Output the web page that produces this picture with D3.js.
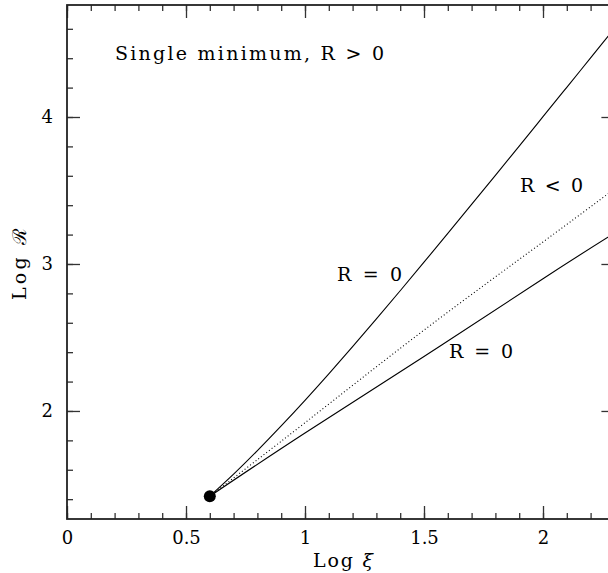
<!DOCTYPE html>
<html>
<head>
<meta charset="utf-8">
<script src="https://cdn.jsdelivr.net/npm/d3@7"></script>
<style>
  body { margin: 0; background: #fff; }
  text { font-family: 'DejaVu Serif', 'Liberation Serif', serif; fill: #000; }
</style>
</head>
<body>
<div class="chart"></div>
<script>
'use strict';

// Data
const xMajor = [0, 0.5, 1, 1.5, 2];
const yMajor = [2, 3, 4];

// R = 0, upper branch
const upperX = [0.6, 0.7, 0.8, 0.9, 1.0, 1.1, 1.2, 1.3, 1.4, 1.5, 1.6, 1.7, 1.8, 1.9, 2.0, 2.1, 2.2, 2.3];
const upperY = [1.42, 1.57, 1.73, 1.898, 2.072, 2.252, 2.437, 2.626, 2.818, 3.012, 3.208, 3.405, 3.603, 3.802, 4.002, 4.202, 4.402, 4.602];

// R < 0, dotted
const dottedX = [0.6, 1.0, 1.5, 2.0, 2.3];
const dottedY = [1.42, 1.92, 2.55, 3.15, 3.51];

// R = 0, lower branch
const lowerX = [0.6, 1.0, 1.5, 2.0, 2.3];
const lowerY = [1.42, 1.85, 2.37, 2.90, 3.21];

const pointX = 0.6;
const pointY = 1.42;

// Layout
const w = 608;
const h = 573;
const mLeft = 67, mRight = 614.4, mTop = 5, mBottom = 519;

const svg = d3.select('.chart')
              .append('svg')
              .attr('width', w)
              .attr('height', h);

const xScale = d3.scaleLinear()
                 .domain([0, 2.3])
                 .range([mLeft, mRight]);

const yScale = d3.scaleLinear()
                 .domain([1.265, 4.762])
                 .range([mBottom, mTop]);

const xMinor = xScale.ticks(23);
const yMinor = yScale.ticks(18);

// Ticks (major with labels, minor without), on all four sides
function tickAxis(axisFn, scale, values, size, transform, pad) {
  const ax = axisFn(scale)
    .tickValues(values)
    .tickSizeInner(-size)
    .tickSizeOuter(0)
    .tickPadding(pad || 0)
    .tickFormat(pad ? d3.format('') : () => '');
  const g = svg.append('g')
    .attr('transform', transform)
    .call(ax);
  g.select('.domain').remove();
  g.attr('font-family', null).attr('font-size', null);
  g.selectAll('line').attr('stroke', '#333').attr('stroke-width', 1.3);
  g.selectAll('text').style('font-size', '18px');
  return g;
}

tickAxis(d3.axisBottom, xScale, xMinor, 6, `translate(0,${mBottom})`);
tickAxis(d3.axisBottom, xScale, xMajor, 13, `translate(0,${mBottom})`, 12);
tickAxis(d3.axisTop, xScale, xMinor, 6, `translate(0,${mTop})`);
tickAxis(d3.axisTop, xScale, xMajor, 13, `translate(0,${mTop})`);
tickAxis(d3.axisLeft, yScale, yMinor, 6, `translate(${mLeft},0)`);
tickAxis(d3.axisLeft, yScale, yMajor, 13, `translate(${mLeft},0)`, 14);
tickAxis(d3.axisRight, yScale, yMinor, 6, `translate(${mRight},0)`);
tickAxis(d3.axisRight, yScale, yMajor, 13, `translate(${mRight},0)`);

// Frame
svg.append('rect')
  .attr('x', mLeft)
  .attr('y', mTop)
  .attr('width', mRight - mLeft)
  .attr('height', mBottom - mTop)
  .attr('fill', 'none')
  .attr('stroke', '#222')
  .attr('stroke-width', 1.8);

// Curves
const line = d3.line()
  .x(d => xScale(d[0]))
  .y(d => yScale(d[1]))
  .curve(d3.curveNatural);

const zip = (xs, ys) => xs.map((x, i) => [x, ys[i]]);

svg.append('path')
  .datum(zip(upperX, upperY))
  .attr('d', line)
  .attr('fill', 'none')
  .attr('stroke', '#000')
  .attr('stroke-width', 1.1);

svg.append('path')
  .datum(zip(lowerX, lowerY))
  .attr('d', line)
  .attr('fill', 'none')
  .attr('stroke', '#000')
  .attr('stroke-width', 1.1);

svg.append('path')
  .datum(zip(dottedX, dottedY))
  .attr('d', line)
  .attr('fill', 'none')
  .attr('stroke', '#000')
  .attr('stroke-width', 1.1)
  .attr('stroke-dasharray', '1,2.4');

svg.append('circle')
  .attr('cx', xScale(pointX))
  .attr('cy', yScale(pointY))
  .attr('r', 6)
  .attr('fill', '#000');

// Annotations
function label(txt, x, y, len, size) {
  return svg.append('text')
    .attr('x', x)
    .attr('y', y)
    .attr('textLength', len)
    .attr('lengthAdjust', 'spacing')
    .style('font-size', size + 'px')
    .text(txt);
}

label('Single minimum, R > 0', 115, 60, 269, 19);
label('R < 0', 520, 192, 63, 19);
label('R = 0', 337, 281, 65, 19);
label('R = 0', 449, 358, 64, 19);

// Axis titles
const xt = svg.append('text')
  .attr('x', 313)
  .attr('y', 567)
  .attr('textLength', 60)
  .attr('lengthAdjust', 'spacing')
  .style('font-size', '19px');
xt.append('tspan').text('Log ');
xt.append('tspan').style('font-style', 'italic').text('ξ');

svg.append('text')
  .attr('transform', 'translate(26,264) rotate(-90)')
  .attr('text-anchor', 'middle')
  .attr('textLength', 72)
  .attr('lengthAdjust', 'spacing')
  .style('font-size', '19px')
  .text('Log ℛ');
</script>
</body>
</html>
